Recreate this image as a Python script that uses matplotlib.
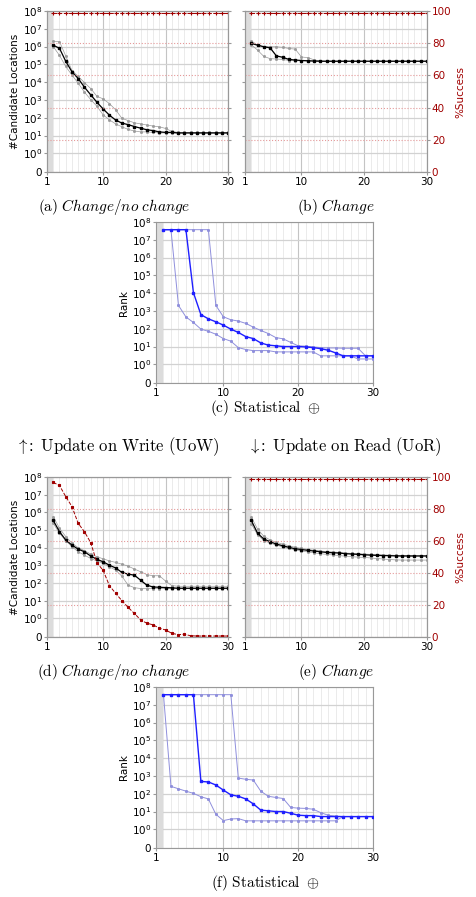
import numpy as np
import matplotlib
matplotlib.use("Agg")
import matplotlib.pyplot as plt

DARKRED = '#a00000'
GRID_RED = dict(color='#e59a9a', linestyle=':', linewidth=0.8)
SPINE = '#999999'

STEPS = list(range(2, 31))

# (a) UoW, change/no change -- candidate locations
A_MED = [1.2e6, 8e5, 1.5e5, 3.8e4, 1.6e4, 5200, 1950, 740, 310, 140, 74, 50, 41, 32, 26,
         21, 19, 16, 15, 15, 14, 14, 14, 14, 14, 14, 14, 14, 14]
A_HI = [2.0e6, 1.9e6, 3.0e5, 4.5e4, 2.1e4, 9500, 4400, 1600, 1150, 620, 280, 93, 69, 52, 45,
        39, 34, 31, 25, 17, 15, 15, 15, 15, 15, 15, 15, 15, 15]
A_LO = [1.0e6, 3.2e5, 7.6e4, 2.5e4, 8700, 2750, 1050, 440, 145, 76, 45, 31, 22, 18, 16,
        16, 15, 14, 14, 14, 14, 14, 14, 14, 14, 14, 14, 14, 14]
A_SUCC = [99, 99, 99, 99, 99, 99, 99, 99, 99, 99, 99, 99, 99, 99, 99,
          99, 99, 99, 99, 99, 99, 99, 99, 99, 99, 99, 99, 99, 99]

# (b) UoW, change
B_MED = [1.5e6, 1.2e6, 9.8e5, 8.5e5, 3.0e5, 2.5e5, 1.9e5, 1.75e5, 1.65e5, 1.6e5, 1.55e5,
         1.5e5, 1.5e5, 1.5e5, 1.5e5, 1.5e5, 1.5e5, 1.5e5, 1.5e5, 1.5e5, 1.5e5, 1.5e5,
         1.5e5, 1.5e5, 1.5e5, 1.5e5, 1.5e5, 1.5e5, 1.5e5]
B_HI = [2.1e6, 1.2e6, 9.8e5, 9.8e5, 9.8e5, 9.1e5, 7.8e5, 7.2e5, 2.6e5, 2.4e5, 1.8e5,
        1.55e5, 1.5e5, 1.5e5, 1.5e5, 1.5e5, 1.5e5, 1.5e5, 1.5e5, 1.5e5, 1.5e5, 1.5e5,
        1.5e5, 1.5e5, 1.5e5, 1.5e5, 1.5e5, 1.5e5, 1.5e5]
B_LO = [1.3e6, 6.3e5, 2.8e5, 2.1e5, 2.0e5, 1.9e5, 1.65e5, 1.6e5, 1.6e5, 1.52e5, 1.5e5,
        1.5e5, 1.5e5, 1.5e5, 1.5e5, 1.5e5, 1.5e5, 1.5e5, 1.5e5, 1.5e5, 1.5e5, 1.5e5,
        1.5e5, 1.5e5, 1.5e5, 1.5e5, 1.5e5, 1.5e5, 1.5e5]
B_SUCC = A_SUCC

# (c) UoW, statistical -- rank
C_MED = [3.7e7, 3.7e7, 3.7e7, 3.7e7, 10700, 620, 360, 245, 160, 95, 62, 36, 28, 16, 12,
         11, 10, 10, 10, 9.5, 8.7, 7.6, 6.2, 4.4, 3, 3, 3, 3, 3]
C_HI = [3.7e7, 3.7e7, 3.7e7, 3.7e7, 3.7e7, 3.7e7, 3.7e7, 2050, 470, 320, 270, 200, 123, 80,
        54, 32, 27, 17, 11, 10.5, 9.5, 8.7, 8.3, 8.3, 8, 8, 8, 3, 3]
C_LO = [3.7e7, 3.7e7, 2050, 460, 225, 95, 72, 49, 28, 20, 8.7, 6.8, 5.9, 5.9, 5.9,
        5, 5, 5, 5, 5, 5, 3, 3, 3, 3, 3, 2, 2, 2]

# (d) UoR, change/no change
D_MED = [3.5e5, 8.1e4, 2.75e4, 1.4e4, 8300, 5900, 3400, 2200, 1600, 1020, 720, 400, 320,
         280, 145, 76, 60, 58, 56, 54, 51, 51, 51, 51, 51, 51, 51, 51, 51]
D_HI = [5.8e5, 1.26e5, 4.3e4, 1.8e4, 1.0e4, 6800, 4400, 3100, 2350, 1800, 1480, 1170, 910,
        620, 440, 300, 260, 260, 130, 72, 66, 66, 66, 66, 66, 66, 66, 66, 66]
D_LO = [2.4e5, 6.6e4, 2.5e4, 1.15e4, 5900, 3800, 2450, 1800, 1300, 830, 540, 245, 76, 55,
        49, 49, 49, 49, 49, 49, 49, 49, 49, 49, 49, 49, 49, 49, 49]
D_SUCC = [96.6, 94.7, 87.8, 81.5, 71, 65.8, 59, 46.4, 41.6, 32.1, 27.3, 22.7, 18.5, 14.7,
          10.7, 8.6, 7.6, 5.5, 4.4, 2.3, 1.5, 1.7, 0.8, 0.6, 0.6, 0.6, 0.6, 0.6, 0.6]

# (e) UoR, change
E_MED = [3.5e5, 6.6e4, 3.1e4, 2.2e4, 1.6e4, 1.3e4, 1.05e4, 8700, 7900, 7100, 6500, 5900,
         5400, 5200, 5000, 4600, 4400, 4200, 4000, 3800, 3700, 3600, 3550, 3450, 3400,
         3400, 3400, 3400, 3400]
E_HI = [5.4e5, 1.15e5, 4.4e4, 2.75e4, 2.0e4, 1.6e4, 1.3e4, 1.05e4, 9100, 7900, 7200, 6600,
        6000, 5750, 5400, 5000, 4800, 4600, 4400, 4200, 4000, 3900, 3800, 3700, 3600,
        3600, 3600, 3600, 3600]
E_LO = [2.2e5, 5.5e4, 2.5e4, 1.85e4, 1.4e4, 1.12e4, 9100, 7600, 6600, 5750, 5100, 4600,
        4200, 3900, 3600, 3300, 3100, 2950, 2800, 2650, 2450, 2300, 2150, 2050, 2000,
        2000, 2000, 2000, 2000]
E_SUCC = A_SUCC

# (f) UoR, statistical
F_MED = [3.7e7, 3.7e7, 3.7e7, 3.7e7, 3.7e7, 490, 460, 310, 160, 87, 72, 51, 27, 12, 11,
         10, 10, 8, 6.2, 5.9, 5.9, 5.2, 5.2, 5.2, 5.2, 5.2, 5.2, 5.2, 5.2]
F_HI = [3.7e7, 3.7e7, 3.7e7, 3.7e7, 3.7e7, 3.7e7, 3.7e7, 3.7e7, 3.7e7, 3.7e7, 760, 650, 590,
        140, 72, 62, 54, 17, 15.5, 15, 13.5, 8.7, 6.2, 5.6, 5.2, 5.2, 5.2, 5.2, 5.2]
F_LO = [3.7e7, 260, 190, 140, 105, 68, 51, 7, 3.1, 3.8, 4, 3, 3, 3, 3, 3, 3, 3, 3, 3, 3,
        3, 3, 3, 5.2, 5.2, 5.2, 5.2, 5.2]

Y_TICKS = [0, 1, 10, 1e2, 1e3, 1e4, 1e5, 1e6, 1e7, 1e8]
Y_LABELS = ['0'] + [r'$10^{%d}$' % k for k in range(9)]
SUCC_TICKS = [0, 20, 40, 60, 80, 100]


# 0 sits about one decade under 10^0, the rest is plain log10
def fwd(v):
    v = np.asarray(v, dtype=float)
    return np.where(v >= 1, np.log10(np.maximum(v, 1)), (v - 1) * 1.05)


def inv(y):
    y = np.asarray(y, dtype=float)
    return np.where(y >= 0, 10 ** np.minimum(y, 30), y / 1.05 + 1)


def px_axes(fig, left, top, right, bottom):
    W, H = 476.0, 897.0
    return fig.add_axes([left / W, 1 - bottom / H, (right - left) / W, (bottom - top) / H])


def base_axis(ax, left_labels, ylabel=None):
    ax.set_yscale('function', functions=(fwd, inv))
    ax.set_ylim(0, 1e8)
    ax.set_xlim(1, 30)
    ax.set_yticks(Y_TICKS)
    ax.yaxis.set_minor_locator(matplotlib.ticker.NullLocator())
    if left_labels:
        ax.set_yticklabels(Y_LABELS)
    else:
        ax.set_yticklabels([])
    ax.set_xticks([1, 10, 20, 30])
    ax.set_xticks(range(2, 30), minor=True)
    ax.grid(axis='y', which='major', color='#d2d2d2', linewidth=0.9)
    ax.grid(axis='x', which='major', color='#c4c4c4', linewidth=0.8)
    ax.grid(axis='x', which='minor', color='#e8e8e8', linewidth=0.6)
    ax.tick_params(labelsize=7.5, length=2, color=SPINE, pad=1.5)
    ax.tick_params(which='minor', length=0)
    ax.axvspan(1, 2, color='#dcdcdc', zorder=1.7, linewidth=0)
    for s in ax.spines.values():
        s.set_color(SPINE)
        s.set_linewidth(0.8)
    if ylabel:
        ax.set_ylabel(ylabel, fontsize=7.5, labelpad=2)


def success_axis(ax, succ, labels, marker='+'):
    ax2 = ax.twinx()
    ax2.set_ylim(0, 100)
    ax2.set_yticks(SUCC_TICKS)
    ax2.grid(axis='y', **GRID_RED)
    ax2.tick_params(labelsize=7.5, length=2, color=SPINE, labelcolor=DARKRED, pad=1.5)
    if not labels:
        ax2.set_yticklabels([])
    else:
        ax2.set_ylabel('%Success', color=DARKRED, fontsize=7.5, labelpad=3)
    for s in ax2.spines.values():
        s.set_color(SPINE)
        s.set_linewidth(0.8)
    ms = 3.5 if marker == '+' else 1.8
    ax2.plot(STEPS, succ, color=DARKRED, linestyle='--', linewidth=0.7,
             marker=marker, markersize=ms, markeredgewidth=0.8)
    return ax2


def candidate_lines(ax, med, hi, lo):
    for s in (hi, lo):
        ax.plot(STEPS, s, color='#9a9a9a', linewidth=0.5, marker='s', markersize=1.0, zorder=3)
    ax.plot(STEPS, med, color='black', linewidth=0.9, marker='s', markersize=1.8, zorder=4)


def rank_lines(ax, med, hi, lo):
    for s in (hi, lo):
        ax.plot(STEPS, s, color='#8f8fdc', linewidth=0.7, marker='s', markersize=1.1, zorder=3)
    ax.plot(STEPS, med, color='#1f1fff', linewidth=1.0, marker='s', markersize=1.8, zorder=4)


def caption(fig, x, y, s, size=11):
    fig.text(x / 476.0, 1 - y / 897.0, s, ha='center', va='center', fontsize=size,
             math_fontfamily='cm')


def main():
    fig = plt.figure(figsize=(4.76, 8.97), dpi=100)

    ax_a = px_axes(fig, 47, 11, 228, 172)
    base_axis(ax_a, True, '#Candidate Locations')
    candidate_lines(ax_a, A_MED, A_HI, A_LO)
    success_axis(ax_a, A_SUCC, False)

    ax_b = px_axes(fig, 245, 11, 427, 172)
    base_axis(ax_b, False)
    candidate_lines(ax_b, B_MED, B_HI, B_LO)
    success_axis(ax_b, B_SUCC, True)

    ax_c = px_axes(fig, 156, 222, 373, 383)
    base_axis(ax_c, True, 'Rank')
    rank_lines(ax_c, C_MED, C_HI, C_LO)

    ax_d = px_axes(fig, 47, 477, 228, 637)
    base_axis(ax_d, True, '#Candidate Locations')
    candidate_lines(ax_d, D_MED, D_HI, D_LO)
    success_axis(ax_d, D_SUCC, False, marker='s')

    ax_e = px_axes(fig, 245, 477, 427, 637)
    base_axis(ax_e, False)
    candidate_lines(ax_e, E_MED, E_HI, E_LO)
    success_axis(ax_e, E_SUCC, True)

    ax_f = px_axes(fig, 156, 687, 373, 848)
    base_axis(ax_f, True, 'Rank')
    rank_lines(ax_f, F_MED, F_HI, F_LO)

    caption(fig, 114, 207, r'$\mathrm{(a)}\ \mathit{Change/no\ change}$')
    caption(fig, 336, 207, r'$\mathrm{(b)}\ \mathit{Change}$')
    caption(fig, 265, 408, r'$\mathrm{(c)\ Statistical}\ \oplus$')
    caption(fig, 118, 447, r'$\uparrow\!\!\mathrm{:\ Update\ on\ Write\ (UoW)}$', size=12)
    caption(fig, 345, 447, r'$\downarrow\!\!\mathrm{:\ Update\ on\ Read\ (UoR)}$', size=12)
    caption(fig, 114, 672, r'$\mathrm{(d)}\ \mathit{Change/no\ change}$')
    caption(fig, 336, 672, r'$\mathrm{(e)}\ \mathit{Change}$')
    caption(fig, 265, 883, r'$\mathrm{(f)\ Statistical}\ \oplus$')

    fig.savefig('out.png', dpi=100)


if __name__ == "__main__":
    main()
